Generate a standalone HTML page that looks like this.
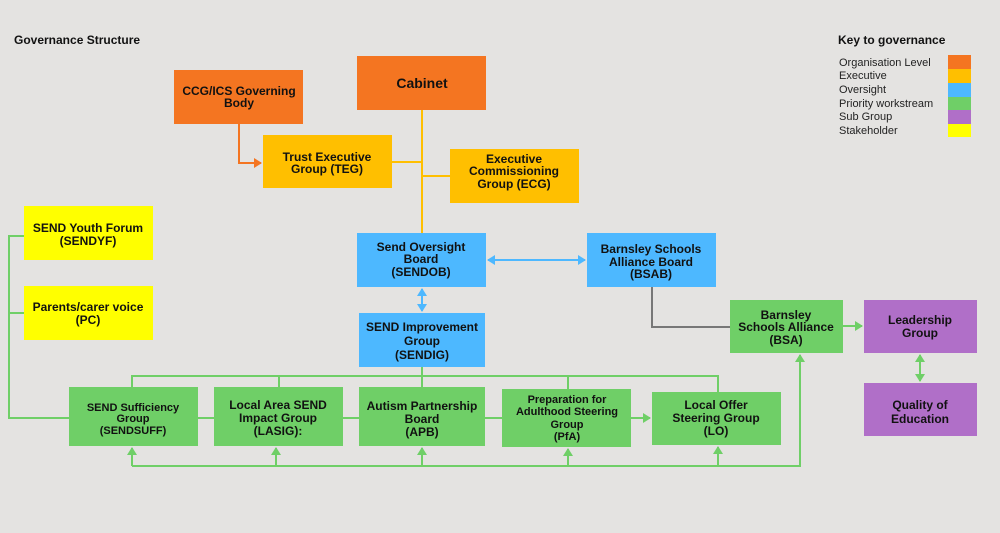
<!DOCTYPE html>
<html><head><meta charset="utf-8"><style>
body{margin:0;background:#e4e3e1;}
svg{display:block;font-family:"Liberation Sans",sans-serif;}
.b{font-weight:bold;font-size:12px;fill:#111;text-anchor:middle;}
.k{font-size:11px;fill:#222;}
</style></head><body>
<svg width="1000" height="533" viewBox="0 0 1000 533">
<rect width="1000" height="533" fill="#e4e3e1"/>
<defs>
<marker id="ag" markerWidth="10" markerHeight="10" refX="7" refY="5" orient="auto-start-reverse" markerUnits="userSpaceOnUse"><path d="M0,0 L8,5 L0,10z" fill="#6fcf67"/></marker>
<marker id="ab" markerWidth="10" markerHeight="10" refX="7" refY="5" orient="auto-start-reverse" markerUnits="userSpaceOnUse"><path d="M0,0 L8,5 L0,10z" fill="#4db8ff"/></marker>
<marker id="ao" markerWidth="10" markerHeight="10" refX="7" refY="5" orient="auto" markerUnits="userSpaceOnUse"><path d="M0,0 L8,5 L0,10z" fill="#f47521"/></marker>
</defs>
<text x="14" y="44" style="font-weight:bold;font-size:12px" fill="#111">Governance Structure</text>
<text x="838" y="44" style="font-weight:bold;font-size:12px" fill="#111">Key to governance</text>
<g class="k">
<text x="839" y="66">Organisation Level</text><text x="839" y="79">Executive</text><text x="839" y="93">Oversight</text>
<text x="839" y="107">Priority workstream</text><text x="839" y="120">Sub Group</text><text x="839" y="134">Stakeholder</text>
</g>
<rect x="948" y="55" width="23" height="14" fill="#f47521"/><rect x="948" y="69" width="23" height="14" fill="#ffbf00"/>
<rect x="948" y="83" width="23" height="14" fill="#4db8ff"/><rect x="948" y="97" width="23" height="13" fill="#6fcf67"/>
<rect x="948" y="110" width="23" height="14" fill="#b06fc8"/><rect x="948" y="124" width="23" height="13" fill="#ffff00"/>

<g fill="none" stroke-width="2">
<path d="M422 110 V233 M392 162 H422 M422 176 H450" stroke="#ffbf00"/>
<path d="M239 124 V163 H261" stroke="#f47521" marker-end="url(#ao)"/>
<path d="M488 260 H585" stroke="#4db8ff" marker-start="url(#ab)" marker-end="url(#ab)"/>
<path d="M422 289 V311" stroke="#4db8ff" marker-start="url(#ab)" marker-end="url(#ab)"/>
<path d="M652 287 V327 H730" stroke="#777"/>
<g stroke="#6fcf67">
<path d="M843 326 H862" marker-end="url(#ag)"/>
<path d="M920 355 V381" marker-start="url(#ag)" marker-end="url(#ag)"/>
<path d="M132 387 V376 H718 V392 M279 376 V387 M422 367 V387 M568 376 V389"/>
<path d="M198 418 H214 M343 418 H359 M485 418 H502"/>
<path d="M631 418 H650" marker-end="url(#ag)"/>
<path d="M24 236 H9 V418 H69 M9 313 H24"/>
<path d="M132 466 H800 V355" marker-end="url(#ag)"/>
<path d="M132 466 V448" marker-end="url(#ag)"/>
<path d="M276 466 V448" marker-end="url(#ag)"/>
<path d="M422 466 V448" marker-end="url(#ag)"/>
<path d="M568 466 V449" marker-end="url(#ag)"/>
<path d="M718 466 V447" marker-end="url(#ag)"/>
</g>
</g>

<rect x="357" y="56" width="129" height="54" fill="#f47521"/>
<text class="b" x="422" y="88" style="font-size:14px">Cabinet</text>
<rect x="174" y="70" width="129" height="54" fill="#f47521"/>
<text class="b" x="239" y="95">CCG/ICS Governing</text><text class="b" x="239" y="107">Body</text>
<rect x="263" y="135" width="129" height="53" fill="#ffbf00"/>
<text class="b" x="327" y="161">Trust Executive</text><text class="b" x="327" y="173">Group (TEG)</text>
<rect x="450" y="149" width="129" height="54" fill="#ffbf00"/>
<text class="b" x="514" y="163">Executive</text><text class="b" x="514" y="175">Commissioning</text><text class="b" x="514" y="188">Group (ECG)</text>
<rect x="357" y="233" width="129" height="54" fill="#4db8ff"/>
<text class="b" x="421" y="251">Send Oversight</text><text class="b" x="421" y="263">Board</text><text class="b" x="421" y="276">(SENDOB)</text>
<rect x="587" y="233" width="129" height="54" fill="#4db8ff"/>
<text class="b" x="651" y="253">Barnsley Schools</text><text class="b" x="651" y="266">Alliance Board</text><text class="b" x="651" y="278">(BSAB)</text>
<rect x="359" y="313" width="126" height="54" fill="#4db8ff"/>
<text class="b" x="422" y="331">SEND Improvement</text><text class="b" x="422" y="345">Group</text><text class="b" x="422" y="359">(SENDIG)</text>
<rect x="24" y="206" width="129" height="54" fill="#ffff00"/>
<text class="b" x="88" y="232">SEND Youth Forum</text><text class="b" x="88" y="245">(SENDYF)</text>
<rect x="24" y="286" width="129" height="54" fill="#ffff00"/>
<text class="b" x="88" y="311">Parents/carer voice</text><text class="b" x="88" y="324">(PC)</text>
<rect x="730" y="300" width="113" height="53" fill="#6fcf67"/>
<text class="b" x="786" y="319">Barnsley</text><text class="b" x="786" y="331">Schools Alliance</text><text class="b" x="786" y="344">(BSA)</text>
<rect x="864" y="300" width="113" height="53" fill="#b06fc8"/>
<text class="b" x="920" y="324">Leadership</text><text class="b" x="920" y="337">Group</text>
<rect x="864" y="383" width="113" height="53" fill="#b06fc8"/>
<text class="b" x="920" y="409">Quality of</text><text class="b" x="920" y="423">Education</text>
<rect x="69" y="387" width="129" height="59" fill="#6fcf67"/>
<text class="b" x="133" y="411" style="font-size:11px">SEND Sufficiency</text><text class="b" x="133" y="422" style="font-size:11px">Group</text><text class="b" x="133" y="434" style="font-size:11px">(SENDSUFF)</text>
<rect x="214" y="387" width="129" height="59" fill="#6fcf67"/>
<text class="b" x="278" y="409">Local Area SEND</text><text class="b" x="278" y="422">Impact Group</text><text class="b" x="278" y="435">(LASIG):</text>
<rect x="359" y="387" width="126" height="59" fill="#6fcf67"/>
<text class="b" x="422" y="410">Autism Partnership</text><text class="b" x="422" y="423">Board</text><text class="b" x="422" y="436">(APB)</text>
<rect x="502" y="389" width="129" height="58" fill="#6fcf67"/>
<text class="b" x="567" y="403" style="font-size:11px">Preparation for</text><text class="b" x="567" y="415" style="font-size:11px">Adulthood Steering</text><text class="b" x="567" y="428" style="font-size:11px">Group</text><text class="b" x="567" y="440" style="font-size:11px">(PfA)</text>
<rect x="652" y="392" width="129" height="53" fill="#6fcf67"/>
<text class="b" x="716" y="409">Local Offer</text><text class="b" x="716" y="422">Steering Group</text><text class="b" x="716" y="435">(LO)</text>
</svg>
</body></html>
